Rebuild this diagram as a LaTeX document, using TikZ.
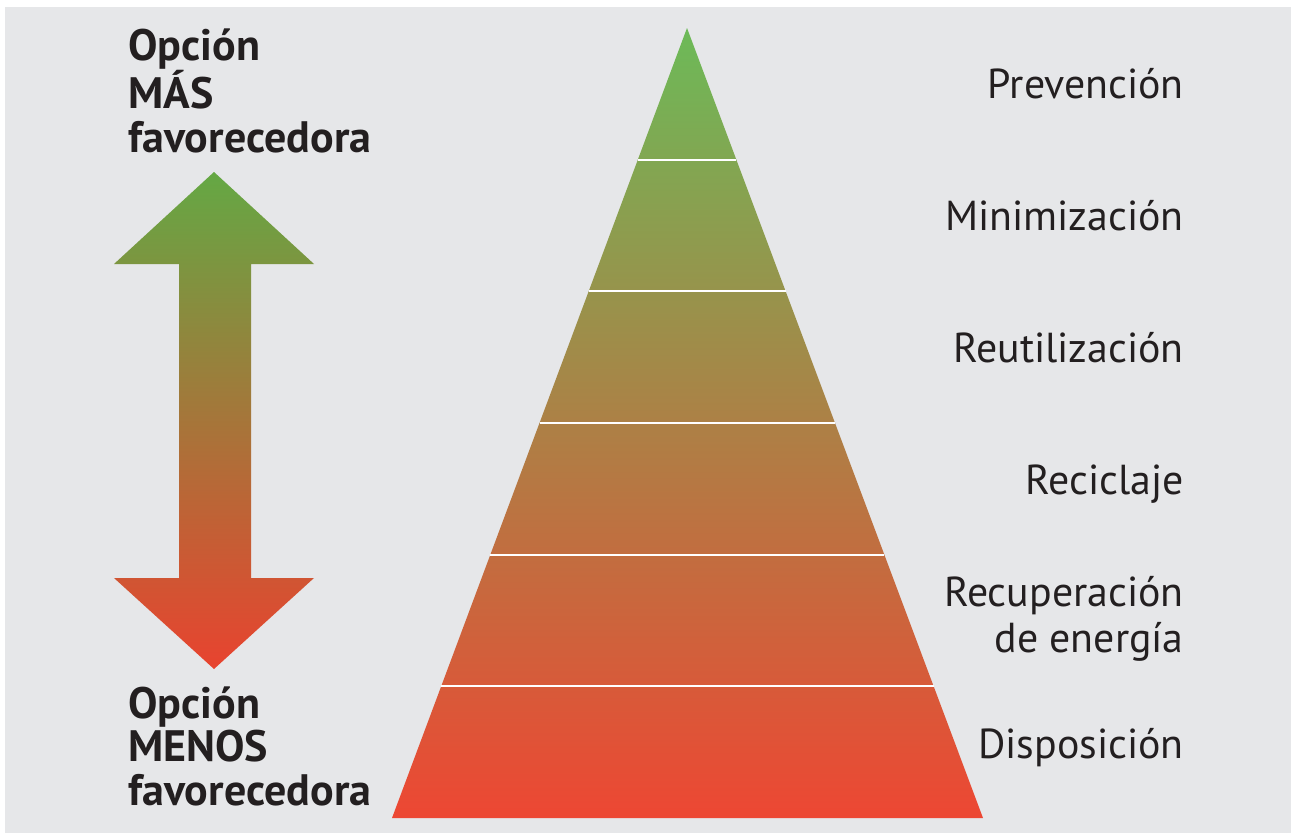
\documentclass[tikz,border=0pt]{standalone}
\usepackage{fontspec}
\setmainfont{PT Sans}
\usetikzlibrary{calc}
\definecolor{bg}{RGB}{230,231,233}
\definecolor{txt}{RGB}{35,31,32}
\definecolor{pyrtop}{RGB}{108,186,88}
\definecolor{pyrmid}{RGB}{190,154,84}
\definecolor{pyrbot}{RGB}{237,71,51}
\definecolor{arrtop}{RGB}{100,168,68}
\definecolor{arrmid}{RGB}{172,138,62}
\definecolor{arrbot}{RGB}{232,67,47}
\tikzset{
  lvl/.style={anchor=base east, text=txt, inner sep=0pt, align=right,
    font=\fontsize{31.4}{34}\selectfont},
  side/.style={anchor=base west, text=txt, inner sep=0pt, align=left,
    font=\fontsize{33}{32.6}\selectfont\bfseries},
  divider/.style={white, line width=1.6pt}
}
\begin{document}
\begin{tikzpicture}[x=0.75pt,y=-0.75pt]
\useasboundingbox (0,0) rectangle (1291,835);
\fill[white] (0,0) rectangle (1291,835);
\fill[bg] (5,7) rectangle (1291,833);
% pyramid
\coordinate (apex) at (687,28);
\coordinate (bl) at (392,818);
\coordinate (br) at (983,818);
\shade[top color=pyrtop, middle color=pyrmid, bottom color=pyrbot] (apex) -- (br) -- (bl) -- cycle;
\foreach \t in {1,...,5}
  \draw[divider] ($(apex)!\t/6!(bl)$) -- ($(apex)!\t/6!(br)$);
% double arrow
\shade[top color=arrtop, middle color=arrmid, bottom color=arrbot]
  (214,172) -- (314,264) -- (251,264) -- (251,578) -- (314,578) -- (214,669)
  -- (114,578) -- (179,578) -- (179,264) -- (114,264) -- cycle;
% labels
\node[lvl] (prev) at (1184,98) {Prevención};
\node[lvl] (mini) at (1184,230) {Minimización};
\node[lvl] (reut) at (1184,362) {Reutilización};
\node[lvl] (reci) at (1184,494) {Reciclaje};
\node[lvl] (recu) at (1184,652) {Recuperación\\de energía};
\node[lvl] (disp) at (1184,758) {Disposición};
\node[side] (mas) at (128,152) {Opción\\MÁS\\favorecedora};
\node[side] (menos) at (128,805) {Opción\\MENOS\\favorecedora};
\end{tikzpicture}
\end{document}
